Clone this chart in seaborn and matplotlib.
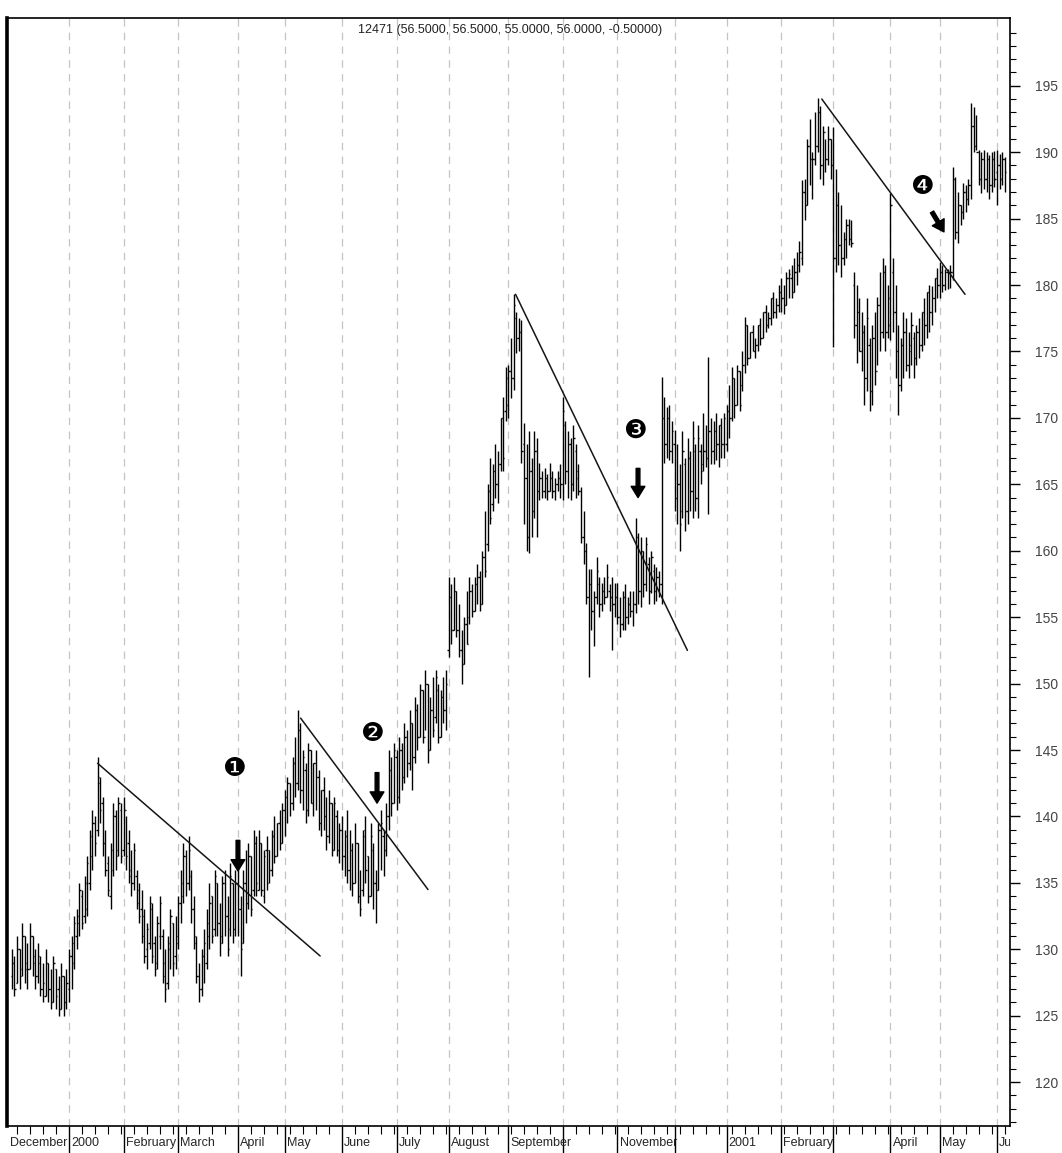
import numpy as np
import pandas as pd
import matplotlib
matplotlib.use("Agg")
import matplotlib.pyplot as plt
import seaborn as sns
from matplotlib.ticker import FixedLocator
from matplotlib.transforms import Bbox, TransformedBbox

# --- 月ラベル（空文字は表示しない）と各月の本数 ---
month_labels = ["December", "2000", "February", "March", "April", "May", "June", "July",
                "August", "September", "", "November", "", "2001", "February", "",
                "April", "May", "June"]
month_bars = [22, 21, 21, 23, 18, 22, 21, 20, 23, 21, 21, 22, 20, 21, 20, 22, 19, 22, 4]

title_text = "12471 (56.5000, 56.5000, 55.0000, 56.0000, -0.50000)"

# --- 日足 OHLC（1行 = 1か月） ---
highs = [
    130, 129.5, 131, 130, 132, 131, 130.5, 132, 131, 130, 130.5, 129.5, 129, 130, 129, 128.5, 129.5, 128.5, 128, 129, 128, 128.5,
    130, 131, 132.5, 133, 135, 134.5, 135.5, 137, 139, 140.5, 140, 144.5, 143, 141.5, 139, 137, 138, 141, 140.5, 141.5, 141,
    141.5, 140, 139, 137.5, 138, 136, 135, 134.5, 133, 132, 134, 133.5, 131, 132.5, 134, 131.5, 130, 131, 133, 132, 132.5,
    134, 136, 138, 137.5, 138.5, 136, 134, 131, 129, 130, 131.5, 133, 135, 134, 136, 135, 133.5, 135.5, 136, 134, 136.5, 135, 136,
    137, 134, 136, 137.5, 138, 137, 139, 138.5, 139, 138, 137.5, 138.5, 137.5, 139, 140, 139.5, 140.5, 141,
    142, 143, 142.5, 144.5, 146, 148, 147, 145, 144, 145.5, 145, 144, 145, 143.5, 142, 143, 141.5, 142, 141, 141.5, 140.5, 139.5,
    140, 139, 140.5, 139, 138, 139.5, 138, 136, 139, 140, 137, 139.5, 138, 136, 139.5, 140.5, 139, 141, 145, 144.5, 145.5,
    145, 146, 145.5, 147, 146.5, 148, 147, 149, 148.5, 150, 149.5, 151, 150, 149, 150.5, 151, 150, 149.5, 150.5, 151,
    158, 157.5, 158, 157, 156, 154, 155, 157, 158, 157.5, 158, 159, 158.5, 160, 163, 165, 167, 166.5, 168, 167.5, 170, 171.6, 173.8,
    174, 176, 179.3, 178, 177.5, 177.4, 169.6, 168, 169, 167, 169, 168.5, 166.6, 166, 166.2, 165.8, 166.6, 166, 165.5, 166, 166.5,
    171.6, 169.8, 169, 168.5, 169.5, 168, 166.5, 164.8, 163, 160.6, 158.6, 158.6, 157, 159.5, 158, 157.6, 158, 159, 157.5, 158, 157.6,
    157.6, 156.5, 157, 157.5, 156.5, 157, 157, 162.5, 161.3, 161, 160, 161, 159.5, 160, 159, 158.8, 158.5, 173.1, 171.6, 170.8, 171, 169.8,
    169.1, 168, 166.5, 169, 167, 168.5, 167.5, 169.8, 168, 169.5, 168, 170.4, 169.5, 174.6, 170, 169.8, 170.4, 169.5, 170, 170.4,
    171, 172.5, 173.8, 173, 174, 173.5, 175, 177.6, 177, 176.5, 177, 176, 177, 177.5, 178, 178.5, 178, 179, 179.5, 179, 180,
    180.5, 180, 181, 181.2, 181.5, 182, 182.5, 183.3, 187.9, 188, 191, 192.5, 190, 193, 194.1, 193.5, 192, 191, 192, 191,
    191.9, 188.7, 187, 186, 184, 185, 185, 184.9, 181, 180, 179, 178, 177, 179, 176, 177, 178, 179.1, 181, 182, 181.5, 180,
    186.9, 182, 180, 177, 176, 178, 177.5, 176.5, 178, 176.5, 177, 177.5, 178, 179, 179.5, 180, 179.9, 180.5, 181.3,
    181.7, 181.5, 181.2, 181.2, 181.5, 188.9, 188.1, 187, 186, 187.7, 187.5, 188, 193.7, 193.4, 192.8, 190.2, 190, 190.2, 190, 189.8, 190, 190.1,
    190.2, 189.9, 190, 189.6,
]
lows = [
    127, 126.5, 127.5, 127, 128, 127.5, 127, 128.5, 128, 127, 127.5, 126.5, 126, 126.5, 126, 125.5, 126, 125.5, 125, 125.5, 125, 125.5,
    126, 127, 128.5, 130, 131, 131.5, 132, 132.5, 134.5, 136, 137, 138.5, 139.5, 137, 135.5, 134, 133, 135.5, 136, 137, 136.5,
    137, 136, 135, 134, 134.5, 133, 132, 130.5, 129, 128.5, 130, 129, 128, 128.5, 130, 127.5, 126, 127, 128.5, 128, 128.5,
    130, 132, 133.5, 134, 134.5, 132, 130, 127.5, 126, 126.5, 127.5, 128.5, 130, 130.5, 131, 131, 129.5, 130.5, 131, 129.5, 131, 130.5, 131,
    131, 128, 130.5, 132, 133, 132.5, 134, 134, 134.5, 134, 133.5, 134.5, 135, 135.5, 136.5, 137, 137.5, 138,
    138.5, 139.5, 140, 140.5, 141.5, 142, 141, 140.5, 139.5, 140, 141, 140, 140.5, 139, 138.5, 139, 137.5, 138, 137, 137.5, 137, 136.5,
    136, 135.5, 135, 134.5, 134, 135, 133.5, 132.5, 134, 135, 133.5, 134, 133, 132, 134.5, 136, 135.5, 137, 139, 140, 141,
    140.5, 141, 142, 142.5, 143, 143.5, 142, 144, 145, 146, 145.5, 146.5, 144, 145, 146, 147, 145.5, 146, 147, 146.5,
    152, 153, 154, 153.5, 152, 150, 151.5, 153, 154.5, 155, 155.5, 156, 155.5, 156, 158, 160, 162, 163, 164, 163.6, 166, 166, 169.8,
    170, 171.5, 172.1, 174.9, 175, 166.6, 162, 160, 159.8, 161, 162.5, 161, 163.8, 164, 164, 163.8, 164.5, 164, 163.8, 164.5, 164,
    163.8, 165, 164, 163.8, 164.5, 164, 164.2, 160.6, 159, 156, 150.5, 154, 152.8, 156, 155, 155.5, 156, 156.5, 155.5, 152.5, 155,
    154.5, 153.5, 154, 154, 154.5, 155, 154.3, 155.3, 156, 155.8, 156.5, 157, 156, 156.8, 156, 156.2, 156.5, 156, 166.6, 167, 166.8, 166.6,
    163, 162, 160, 162.5, 161.5, 162, 163, 162.5, 163, 162.5, 165, 166, 166.3, 162.8, 166.5, 166.5, 166.8, 166.3, 167, 167,
    167.5, 168.5, 169.8, 170, 171, 170.5, 172, 173.4, 174, 174.5, 175, 174.5, 175, 175.5, 176, 176.5, 176.8, 177, 177.5, 177.5, 178,
    178, 177.8, 178.5, 179, 179, 179.5, 180, 181, 181.5, 184.9, 186, 187.5, 186.5, 189, 190, 188, 187.5, 188.5, 189, 188,
    175.3, 181, 181.5, 180.6, 181.5, 182, 183, 182.9, 176, 174.1, 175, 173.5, 171, 172, 170.5, 171, 172.5, 174, 175, 176, 175, 176,
    175.9, 176.5, 173, 170.2, 172, 173, 173.5, 173, 174, 173, 174, 174.5, 175, 175.5, 176, 176.5, 177, 178, 179,
    179, 179.5, 179.6, 179.7, 179.8, 180.4, 183.5, 183.2, 184.5, 185, 185.5, 186, 186.5, 190, 190.2, 187.5, 186.9, 187.2, 187, 186.5, 187, 187.4,
    186, 187.2, 187.5, 187,
]
opens = [
    128, 129, 127.5, 130, 128.5, 131, 129, 128.5, 131, 129.5, 128, 129, 127, 126.5, 129, 127, 126, 128.5, 127, 125.5, 128, 126,
    127, 129.5, 129, 131, 132, 134, 132.5, 133, 135, 137, 139.5, 139, 142.5, 141, 138, 136.5, 134, 136, 140, 137.5, 140.5,
    137.5, 140.5, 138, 136, 135, 135.5, 134.5, 133, 132.5, 130, 130.5, 133, 130.5, 129, 131, 131, 129, 127.5, 130, 132, 129.5,
    130.5, 133.5, 134, 137, 135, 135.5, 133, 130.5, 128, 127, 129.5, 129, 131, 134, 131.5, 135, 132, 130.5, 135, 132.5, 131.5, 135, 131.5,
    135, 133, 130.5, 135, 133.5, 137, 134.5, 138, 134.5, 138, 134, 137.5, 137.5, 136, 138.5, 137, 139.5, 138,
    140.5, 141.5, 142.5, 141, 144, 142.5, 146.5, 142, 143.5, 140.5, 145, 141, 144, 143, 139.5, 142, 140, 138.5, 141, 137.5, 140, 137.5,
    139, 137, 138.5, 136, 137.5, 135, 138, 134, 134.5, 139, 137, 134, 137.5, 135, 134.5, 139, 138.5, 137.5, 140, 143.5, 141,
    144.5, 141.5, 145, 143, 146, 144, 147, 144.5, 148, 146, 149.5, 146, 150, 145, 148, 147.5, 149.5, 146, 149, 148,
    152.5, 156.5, 154, 157, 154, 152.5, 151.5, 154.5, 155, 157, 155.5, 157.5, 158, 156, 159.5, 160.5, 164.5, 163.5, 166, 165, 166.5, 170, 170.5,
    171, 173.5, 173, 177.5, 176, 176.5, 168, 165.5, 161, 166, 163, 167.5, 164.5, 165.5, 164.5, 165.5, 164.5, 165.5, 164.5, 165, 165.5,
    165, 169.5, 166, 168, 165, 167.5, 166, 164.5, 161, 160, 156.5, 157.5, 155.5, 156.5, 157.5, 156, 157, 156.5, 157, 156.5, 156,
    156.5, 155, 154.5, 156.5, 155, 156, 155.5, 156, 161, 157, 160, 157.5, 159, 157, 158.5, 157, 158, 157.5, 170, 168, 170, 167.5,
    168, 164, 165, 163, 166.5, 163, 167, 164.5, 167.5, 164, 167.5, 166.5, 167.5, 167, 169, 167.5, 169, 168, 169.5, 168,
    168, 170.5, 170, 173, 171, 173.5, 172.5, 174, 177, 174.5, 176.5, 175, 175.5, 177, 176, 178, 177, 177.5, 179, 178, 178.5,
    179.5, 179, 178.5, 180.5, 180.5, 179.5, 181, 181.5, 182, 187, 186, 190.5, 189.5, 189.5, 190.5, 193, 189, 191.5, 189.5, 191,
    189, 182, 186, 183, 182, 183.5, 184.5, 183.5, 180, 177, 178, 175, 176.5, 173, 175.5, 172, 176, 173.5, 178.5, 176.5, 181, 176.5,
    177, 181, 178, 175, 172.5, 175.5, 176.5, 174, 175, 176, 174.5, 176.5, 175.5, 178, 177, 179.5, 178, 179, 180.5,
    180, 181, 180, 181, 181, 181, 188, 184, 186, 185.5, 187, 186.5, 187.5, 192, 190.5, 190, 188, 189.5, 188, 189.5, 187.5, 189.5,
    188.5, 189, 188, 189.5,
]
closes = [
    129, 127, 130, 128, 131, 128.5, 128.5, 131, 129, 128, 129.5, 127, 127.5, 129, 127, 126, 129, 126.5, 125.5, 128, 126, 127.5,
    129.5, 130.5, 132, 132.5, 134.5, 132, 135, 136.5, 138.5, 139.5, 138, 143, 140.5, 138, 136, 134.5, 137.5, 140, 137, 141, 137,
    140.5, 137, 135.5, 135, 137.5, 133.5, 132.5, 131, 129.5, 131.5, 133.5, 129.5, 128.5, 132, 133.5, 128, 127, 130.5, 132.5, 129, 131,
    133.5, 135, 137, 135, 137.5, 133, 131, 128, 127, 129.5, 130.5, 132, 133.5, 131, 135.5, 132, 131, 135, 132.5, 130, 135.5, 131.5, 135,
    133, 130, 135, 133.5, 137, 133, 138, 135, 138, 134.5, 137, 135, 136, 138.5, 137, 139.5, 138, 140.5,
    141.5, 142.5, 141, 144, 142.5, 146.5, 142, 144.5, 140.5, 145, 141, 144, 143, 139.5, 142, 140, 138.5, 141, 137.5, 141, 137.5, 139,
    137, 138.5, 136, 137.5, 135, 138, 134, 133, 138.5, 136, 134, 138.5, 135, 134.5, 139, 139.5, 137.5, 140, 143.5, 141, 145,
    141.5, 145, 143, 146, 144, 147, 144.5, 148, 146, 149.5, 146, 150, 145, 148, 146.5, 150.5, 146, 149, 148, 150,
    156.5, 154, 157, 154, 152.5, 151.5, 154.5, 153, 157, 155.5, 157.5, 158, 156, 159.5, 158.5, 164.5, 162.5, 166, 165, 166.5, 170, 167, 173,
    173.5, 173, 178.5, 176, 176.5, 167.5, 165.5, 161, 166, 163, 167.5, 164.5, 165.5, 164.5, 165.5, 164.5, 165.5, 164.5, 165, 165.5, 165,
    170.5, 166, 168, 165, 168.5, 165.5, 164.5, 161, 160, 156.5, 157.5, 155.5, 156.5, 158.5, 156, 157, 156.5, 158, 156.5, 156, 156.5,
    155, 154.5, 156.5, 155, 156, 155.5, 156, 161, 157, 160, 157.5, 160.5, 157, 159.5, 157, 158, 157.5, 170, 168, 170, 167.5, 169,
    164, 165, 162, 167.5, 163, 167, 164.5, 168.5, 164, 168.5, 166, 167.5, 167, 169, 167.5, 169, 168, 169.5, 168, 170,
    170.5, 170, 173, 171, 173.5, 171, 174, 177, 174.5, 176.5, 175, 175.5, 177, 176, 178, 177, 177.5, 179, 178, 178.5, 179.5,
    179, 178.5, 180.5, 180.8, 179.5, 181, 181.5, 182.5, 187, 186, 190.5, 189.5, 189.5, 190.5, 193, 189, 191.5, 189.5, 191, 189,
    182, 186, 183, 182, 183.5, 184.5, 183.5, 183.2, 177, 178, 175, 176.5, 173, 177.5, 172, 176, 173.5, 178.5, 176.5, 181, 176.5, 179,
    186, 178, 175, 172.5, 175.5, 176.5, 174, 175.5, 177, 174.5, 176.5, 175.5, 178, 177, 179.5, 178, 179, 180.5, 180,
    181, 180, 181, 181, 181, 188, 184, 186, 185.5, 187, 186.5, 187.5, 192, 190.5, 190, 188, 189.5, 188, 189.5, 187.5, 189.5, 188,
    189, 188, 189.5, 188.5,
]

# --- トレンドライン（足番号, 価格） ---
trend_x0 = [33.0, 111.1, 193.8, 311.6]
trend_x1 = [118.6, 160.1, 259.9, 366.7]
trend_y0 = [144.0, 147.4, 179.3, 194.0]
trend_y1 = [129.5, 134.5, 152.5, 179.3]

# --- 丸数字と矢印 ---
marker_text = ["\u2776", "\u2777", "\u2778", "\u2779"]
marker_x = [85.9, 138.9, 239.7, 350.2]
marker_y = [143.6, 146.2, 169.0, 187.4]
arrow_from = [(87.0, 138.2), (140.5, 143.3), (240.9, 166.2), (354.0, 185.5)]
arrow_to = [(87.0, 135.9), (140.5, 141.0), (240.9, 164.0), (358.6, 184.0)]

assert len(highs) == len(lows) == len(opens) == len(closes) == sum(month_bars)

# --- 描画 ---
sns.set_theme(style="white")
plt.rcParams["font.family"] = ["Liberation Sans", "DejaVu Sans"]
label_font = ["Liberation Sans", "DejaVu Sans"]

n = len(highs)
x = np.arange(n)
month_start = np.concatenate([[0], np.cumsum(month_bars)[:-1]])

fig = plt.figure(figsize=(10.62, 11.53), dpi=100)
ax = fig.add_axes([7 / 1062, 27 / 1153, 1003 / 1062, 1108 / 1153])

# 月の区切り（破線）
for s in month_start[1:]:
    ax.axvline(s, color="#c4c4c4", lw=0.9, dashes=(6, 5), zorder=0)

bar_color = "black"
ax.vlines(x, lows, highs, color=bar_color, lw=1.0)
ax.hlines(opens, x - 0.5, x, color=bar_color, lw=1.0)
ax.hlines(closes, x, x + 0.5, color=bar_color, lw=1.0)

# トレンドライン
trend_df = pd.DataFrame({
    "x": [v for pair in zip(trend_x0, trend_x1) for v in pair],
    "y": [v for pair in zip(trend_y0, trend_y1) for v in pair],
    "line": [i for i in range(len(trend_x0)) for _ in range(2)],
})
sns.lineplot(data=trend_df, x="x", y="y", units="line", estimator=None,
             color="#151515", lw=1.1, ax=ax, legend=False)

for t, mx, my in zip(marker_text, marker_x, marker_y):
    ax.text(mx, my, t, fontsize=19, ha="center", va="center", family=["DejaVu Sans"], color="black")

for (x0, y0), (x1, y1) in zip(arrow_from, arrow_to):
    ax.annotate("", xy=(x1, y1), xytext=(x0, y0),
                arrowprops=dict(arrowstyle="simple,head_length=0.45,head_width=0.55,tail_width=0.15",
                                color="black", mutation_scale=18, shrinkA=0, shrinkB=0))

ax.text(0.5015, 0.9892, title_text, transform=ax.transAxes, ha="center", va="center",
        fontsize=9, family=label_font, color="#222222")

ax.set_xlabel("")
ax.set_ylabel("")
ax.set_xlim(-1.85, 384.0)
ax.set_ylim(116.7, 200.1)

# 右側の価格軸
ax.yaxis.tick_right()
ax.yaxis.set_major_locator(FixedLocator(np.arange(120, 196, 5)))
ax.yaxis.set_minor_locator(FixedLocator(np.arange(117, 200, 1)))
ax.tick_params(axis="y", which="major", direction="out", length=7, width=1, color="black",
               pad=11, labelsize=10, labelcolor="#444444", right=True, left=False)
ax.tick_params(axis="y", which="minor", direction="out", length=4, width=0.8, color="black",
               right=True, left=False)

# 下側の日付軸
ax.xaxis.set_major_locator(FixedLocator(month_start[1:]))
ax.xaxis.set_minor_locator(FixedLocator(np.arange(2, n, 5)))
ax.tick_params(axis="x", which="major", direction="out", length=20, width=1, color="black",
               bottom=True, labelbottom=False)
ax.tick_params(axis="x", which="minor", direction="out", length=6, width=0.8, color="black",
               bottom=True)

for side in ["top", "bottom", "right"]:
    ax.spines[side].set_color("black")
    ax.spines[side].set_linewidth(1.2)
ax.spines["left"].set_color("black")
ax.spines["left"].set_linewidth(2.6)

clip = TransformedBbox(Bbox([[-0.02, -0.2], [1.0, 0.0]]), ax.transAxes)
for s, lab in zip(month_start, month_labels):
    if not lab:
        continue
    if s == 0:
        t = ax.annotate(lab, xy=(month_start[1], 0), xycoords=("data", "axes fraction"),
                        xytext=(-1.5, -8), textcoords="offset points", ha="right", va="top",
                        fontsize=9, family=label_font)
    else:
        t = ax.annotate(lab, xy=(s, 0), xycoords=("data", "axes fraction"),
                        xytext=(1.5, -8), textcoords="offset points", ha="left", va="top",
                        fontsize=9, family=label_font)
    t.set_clip_box(clip)
    t.set_clip_on(True)

fig.savefig("out.png", dpi=100)
